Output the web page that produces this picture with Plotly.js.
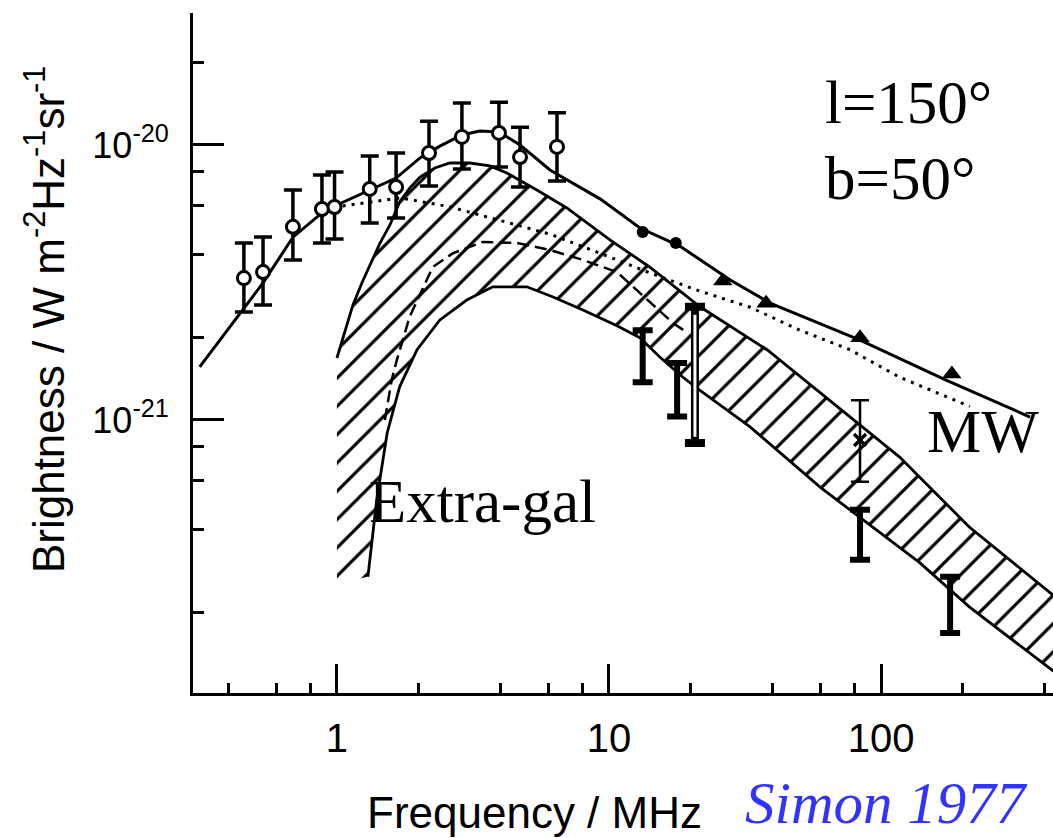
<!DOCTYPE html>
<html><head><meta charset="utf-8">
<script src="https://cdn.plot.ly/plotly-3.0.1.min.js"></script>
<style>html,body{margin:0;padding:0;background:#fff}#chart{width:1053px;height:838px}</style>
</head><body><div id="chart"></div>
<script>
// ---- Data (frequency in MHz, brightness in W m^-2 Hz^-1 sr^-1) ----
// Open circles with error bars
const circFreq = [0.455, 0.535, 0.689, 0.881, 0.98, 1.32, 1.65, 2.18, 2.88, 3.94, 4.71, 6.44];
const circVal  = [3.28e-21, 3.45e-21, 5.04e-21, 5.85e-21, 5.95e-21, 6.92e-21, 7.03e-21, 9.35e-21, 1.07e-20, 1.106e-20, 9.04e-21, 9.84e-21];
const circHigh = [4.40e-21, 4.63e-21, 6.86e-21, 7.78e-21, 7.98e-21, 9.12e-21, 9.35e-21, 1.22e-20, 1.42e-20, 1.43e-20, 1.16e-20, 1.31e-20];
const circLow  = [2.47e-21, 2.62e-21, 3.82e-21, 4.40e-21, 4.55e-21, 5.20e-21, 5.43e-21, 7.10e-21, 8.18e-21, 8.32e-21, 7.03e-21, 7.40e-21];
// Filled dots
const dotFreq = [13.3, 17.6];
const dotVal  = [4.83e-21, 4.40e-21];
// Filled triangles
const triFreq = [26.2, 37.8, 83.7, 182];
const triVal  = [3.2e-21, 2.66e-21, 1.99e-21, 1.47e-21];
// Total (MW) solid curve
const totFreq = [0.313, 0.448, 0.535, 0.689, 0.881, 1.0, 1.32, 1.65, 2.02, 2.39, 2.88, 3.35, 3.94, 4.71, 6.07, 9.27, 13.0, 18.2, 27.9, 39.1, 83.7, 175, 353];
const totVal  = [1.56e-21, 2.51e-21, 3.15e-21, 4.62e-21, 5.66e-21, 6.05e-21, 6.86e-21, 7.58e-21, 8.97e-21, 9.9e-21, 1.087e-20, 1.124e-20, 1.115e-20, 1.0e-20, 8.11e-21, 6.37e-21, 4.99e-21, 4.29e-21, 3.23e-21, 2.66e-21, 1.95e-21, 1.39e-21, 1.025e-21];
// Dotted curve
const dotLineFreq = [1.05, 1.71, 2.60, 3.97, 6.07, 9.27, 14.2, 21.6, 33.0, 50.4, 76.9, 117, 212];
const dotLineVal  = [6.0e-21, 6.42e-21, 5.96e-21, 5.33e-21, 4.74e-21, 4.04e-21, 3.42e-21, 2.94e-21, 2.57e-21, 2.12e-21, 1.80e-21, 1.43e-21, 1.12e-21];
// Dashed curve
const dashFreq = [1.50, 1.59, 1.66, 1.85, 2.25, 2.67, 3.44, 4.59, 6.07, 8.02, 10.7, 14.2, 17.2, 19.5];
const dashVal  = [1.0e-21, 1.40e-21, 1.65e-21, 2.37e-21, 3.60e-21, 4.04e-21, 4.44e-21, 4.40e-21, 4.15e-21, 3.82e-21, 3.45e-21, 2.68e-21, 2.25e-21, 2.07e-21];
// Extra-galactic band: upper and lower boundaries
const upFreq = [1.0, 1.07, 1.145, 1.235, 1.32, 1.44, 1.566, 1.70, 1.855, 2.02, 2.29, 2.60, 3.08, 3.65, 4.21, 5.43, 7.0, 10.08, 14.1, 21.6, 38.1, 66.7, 117, 211, 430];
const upVal  = [1.68e-21, 2.12e-21, 2.62e-21, 3.15e-21, 3.66e-21, 4.40e-21, 5.12e-21, 6.21e-21, 6.98e-21, 7.65e-21, 8.25e-21, 8.60e-21, 8.60e-21, 8.39e-21, 7.91e-21, 6.86e-21, 5.90e-21, 4.52e-21, 3.60e-21, 2.58e-21, 1.80e-21, 1.15e-21, 7.33e-22, 4.08e-22, 2.30e-22];
const loFreq = [1.0, 1.30, 1.40, 1.53, 1.70, 1.97, 2.39, 3.0, 3.74, 4.99, 6.23, 8.02, 10.7, 13.0, 15.4, 18.7, 21.6, 33.0, 59.7, 88.9, 139, 211, 430];
const loVal  = [2.55e-22, 2.69e-22, 5.12e-22, 8.97e-22, 1.32e-21, 1.80e-21, 2.31e-21, 2.73e-21, 3.05e-21, 3.05e-21, 2.80e-21, 2.51e-21, 2.20e-21, 1.99e-21, 1.69e-21, 1.43e-21, 1.28e-21, 9.44e-22, 5.70e-22, 4.22e-22, 3.02e-22, 2.09e-22, 1.22e-22];
// Bold "I" range bars
const barFreq = [13.3, 17.8, 83.7, 179.4];
const barHigh = [2.12e-21, 1.61e-21, 4.71e-22, 2.69e-22];
const barLow  = [1.37e-21, 1.03e-21, 3.10e-22, 1.68e-22];
// Hollow range bar
const hollowFreq = [20.7];
const hollowHigh = [2.58e-21];
const hollowLow  = [8.24e-22];
// Cross with thin error bar
const crossFreq = [83.7];
const crossVal  = [8.45e-22];
const crossHigh = [1.18e-21];
const crossLow  = [5.96e-22];

// Tick labels
const xTickVals = [1, 10, 100];
const xTickText = ['1', '10', '100'];
const xMinor = [0.4, 0.6, 0.8, 2, 4, 6, 8, 20, 40, 60, 80, 200, 400];
const yTickVals = [1e-21, 1e-20];
const yTickText = ['10<sup>-21</sup>', '10<sup>-20</sup>'];
const yMinor = [2e-22, 4e-22, 6e-22, 8e-22, 2e-21, 4e-21, 6e-21, 8e-21, 2e-20];

// ---- build traces ----
const mid = (hi, lo) => hi.map((h, i) => Math.sqrt(h * lo[i]));
const plus = (v, hi) => hi.map((h, i) => h - v[i]);
const minus = (v, lo) => lo.map((l, i) => v[i] - l);

const bandX = upFreq.concat(loFreq.slice().reverse());
const bandY = upVal.concat(loVal.slice().reverse());

const traces = [
  {x: bandX, y: bandY, mode: 'lines', line: {width: 0, color: 'rgba(0,0,0,0)'},
   fill: 'toself', fillcolor: 'rgba(0,0,0,0)',
   fillpattern: {shape: '/', size: 20, solidity: 0.16, fgcolor: 'black', bgcolor: 'rgba(0,0,0,0)'},
   hoverinfo: 'skip'},
  {x: upFreq, y: upVal, mode: 'lines', line: {color: 'black', width: 2.8}},
  {x: loFreq.slice(1), y: loVal.slice(1), mode: 'lines', line: {color: 'black', width: 2.8}},
  {x: dashFreq, y: dashVal, mode: 'lines', line: {color: 'black', width: 2.5, dash: '12px,6px'}},
  {x: dotLineFreq, y: dotLineVal, mode: 'lines', line: {color: 'black', width: 3, dash: '3px,6px'}},
  {x: totFreq, y: totVal, mode: 'lines', line: {color: 'black', width: 3}},
  {x: circFreq, y: circVal, mode: 'markers',
   marker: {symbol: 'circle', size: 13, color: 'white', line: {color: 'black', width: 3}},
   error_y: {type: 'data', symmetric: false, array: plus(circVal, circHigh), arrayminus: minus(circVal, circLow),
             color: 'black', thickness: 3.5, width: 9}},
  {x: dotFreq, y: dotVal, mode: 'markers', marker: {symbol: 'circle', size: 12, color: 'black'}},
  {x: triFreq, y: triVal, mode: 'markers', marker: {symbol: 'triangle-up', size: 17, color: 'black'}},
  (function () { const m = mid(barHigh, barLow); return {x: barFreq, y: m, mode: 'markers',
   marker: {size: 1, color: 'rgba(0,0,0,0)'},
   error_y: {type: 'data', symmetric: false, array: plus(m, barHigh), arrayminus: minus(m, barLow),
             color: 'black', thickness: 6, width: 10}}; })(),
  (function () { const m = mid(hollowHigh, hollowLow); return {x: hollowFreq, y: m, mode: 'markers',
   marker: {size: 1, color: 'rgba(0,0,0,0)'},
   error_y: {type: 'data', symmetric: false, array: plus(m, hollowHigh), arrayminus: minus(m, hollowLow),
             color: 'black', thickness: 8, width: 10}}; })(),
  (function () { const m = mid(hollowHigh, hollowLow); return {x: hollowFreq, y: m, mode: 'markers',
   marker: {size: 1, color: 'rgba(0,0,0,0)'},
   error_y: {type: 'data', symmetric: false, array: plus(m, hollowHigh).map(v => v * 0.85), arrayminus: minus(m, hollowLow).map(v => v * 0.93),
             color: 'white', thickness: 3, width: 0}}; })(),
  {x: crossFreq, y: crossVal, mode: 'markers',
   marker: {symbol: 'x-thin', size: 12, color: 'black', line: {color: 'black', width: 3.5}},
   error_y: {type: 'data', symmetric: false, array: plus(crossVal, crossHigh), arrayminus: minus(crossVal, crossLow),
             color: 'black', thickness: 2.5, width: 9}}
];

const axisFont = 'Liberation Sans, Arial, sans-serif';
const serif = 'Liberation Serif, Times New Roman, serif';

const layout = {
  width: 1053, height: 838,
  margin: {l: 193, r: 0, t: 13, b: 145, pad: 0},
  paper_bgcolor: 'white', plot_bgcolor: 'white',
  showlegend: false,
  xaxis: {
    type: 'log', range: [-0.529, 2.632],
    showline: true, linewidth: 3, linecolor: 'black', mirror: false,
    showgrid: false, zeroline: false,
    ticks: 'inside', ticklen: 29, tickwidth: 3, tickcolor: 'black',
    tickmode: 'array', tickvals: xTickVals, ticktext: xTickText,
    tickfont: {family: axisFont, size: 40, color: 'black'},
    ticklabelstandoff: 8,
    minor: {ticks: 'inside', ticklen: 10, tickwidth: 3, tickcolor: 'black', tickmode: 'array', tickvals: xMinor, showgrid: false}
  },
  yaxis: {
    type: 'log', range: [-21.993, -19.52],
    showline: true, linewidth: 3, linecolor: 'black', mirror: false,
    showgrid: false, zeroline: false,
    ticks: 'inside', ticklen: 31, tickwidth: 3, tickcolor: 'black',
    tickmode: 'array', tickvals: yTickVals, ticktext: yTickText,
    tickfont: {family: axisFont, size: 36, color: 'black'},
    ticklabelstandoff: 14,
    minor: {ticks: 'inside', ticklen: 11, tickwidth: 3, tickcolor: 'black', tickmode: 'array', tickvals: yMinor, showgrid: false}
  },
  annotations: [
    {text: 'Frequency / MHz', xref: 'paper', yref: 'paper', x: 0.397, y: -0.175, xanchor: 'center', yanchor: 'middle',
     showarrow: false, font: {family: axisFont, size: 44, color: 'black'}},
    {text: 'Brightness / W m<sup>-2</sup>Hz<sup>-1</sup>sr<sup>-1</sup>', xref: 'paper', yref: 'paper', x: -0.172, y: 0.55,
     xanchor: 'center', yanchor: 'middle', textangle: -90, showarrow: false, font: {family: axisFont, size: 44, color: 'black'}},
    {text: 'l=150°', xref: 'paper', yref: 'paper', x: 0.7326, y: 0.869, xanchor: 'left', yanchor: 'middle',
     showarrow: false, font: {family: serif, size: 61, color: 'black'}},
    {text: 'b=50°', xref: 'paper', yref: 'paper', x: 0.7326, y: 0.757, xanchor: 'left', yanchor: 'middle',
     showarrow: false, font: {family: serif, size: 61, color: 'black'}},
    {text: 'MW', xref: 'paper', yref: 'paper', x: 0.8512, y: 0.384, xanchor: 'left', yanchor: 'middle',
     showarrow: false, font: {family: serif, size: 61, color: 'black'}},
    {text: 'Extra-gal', xref: 'paper', yref: 'paper', x: 0.2023, y: 0.281, xanchor: 'left', yanchor: 'middle',
     showarrow: false, font: {family: serif, size: 61, color: 'black'}},
    {text: '<i>Simon 1977</i>', xref: 'paper', yref: 'paper', x: 0.6395, y: -0.2128, xanchor: 'left', yanchor: 'bottom',
     showarrow: false, font: {family: serif, size: 59, color: '#3333ff'}}
  ]
};

Plotly.newPlot('chart', traces, layout, {staticPlot: true, displayModeBar: false});
</script></body></html>
